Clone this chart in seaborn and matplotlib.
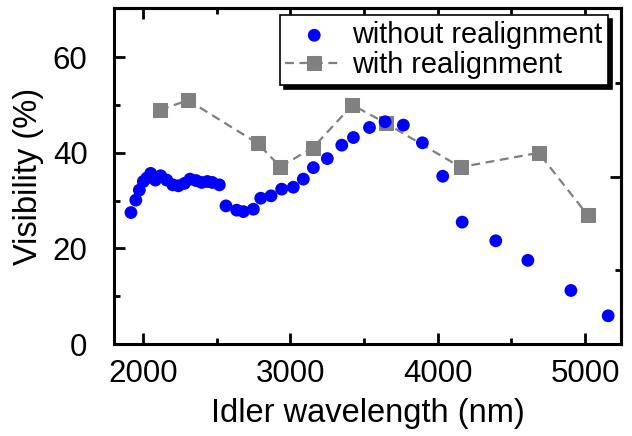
import pandas as pd
import matplotlib
matplotlib.use("Agg")
import matplotlib.pyplot as plt
import seaborn as sns

# without realignment (blue dots)
wl_no = [1918, 1951, 1975, 2002, 2025, 2052, 2084, 2120, 2161, 2202, 2240,
         2281, 2319, 2360, 2398, 2437, 2470, 2518, 2563, 2636, 2681, 2749,
         2799, 2869, 2941, 3020, 3088, 3156, 3251, 3349, 3428, 3537, 3643,
         3767, 3896, 4034, 4166, 4394, 4612, 4904, 5157]
vis_no = [27.5, 30.1, 32.2, 34.0, 34.7, 35.7, 34.3, 35.2, 34.3, 33.3, 33.1,
          33.6, 34.5, 34.2, 33.8, 34.0, 33.8, 33.3, 28.9, 28.0, 27.7, 28.2,
          30.5, 31.0, 32.4, 32.8, 34.5, 36.9, 38.8, 41.6, 43.2, 45.3, 46.5,
          45.8, 42.1, 35.1, 25.5, 21.6, 17.5, 11.2, 5.9]

# with realignment (grey squares)
wl_re = [2116, 2306, 2777, 2931, 3151, 3421, 3648, 4155, 4685, 5017]
vis_re = [49.0, 51.0, 42.0, 37.1, 41.0, 50.0, 46.2, 37.0, 40.0, 27.0]

df_no = pd.DataFrame({"wl": wl_no, "vis": vis_no})
df_re = pd.DataFrame({"wl": wl_re, "vis": vis_re})

sns.set_style("ticks", {"axes.edgecolor": "black", "text.color": "black",
                        "axes.labelcolor": "black", "xtick.color": "black",
                        "ytick.color": "black"})
plt.rcParams["font.family"] = ["Liberation Sans", "DejaVu Sans"]

fig, ax = plt.subplots(figsize=(6.32, 4.36), dpi=100)
fig.subplots_adjust(left=114/632, right=621/632, top=1-8/436, bottom=1-344/436)

sns.scatterplot(data=df_no, x="wl", y="vis", ax=ax, color="#0000ff", s=85,
                edgecolor="none", label="without realignment", zorder=3)
sns.lineplot(data=df_re, x="wl", y="vis", ax=ax, color="#808080", marker="s",
             markersize=9.5, markeredgecolor="#808080", linestyle="--", lw=1.6,
             dashes=False, label="with realignment", zorder=2)
ax.lines[-1].set_dashes([4, 2.5])

ax.set_xlim(1803, 5244)
ax.set_ylim(0, 70.3)
ax.set_xticks([2000, 3000, 4000, 5000])
ax.set_xticks([2500, 3500, 4500], minor=True)
ax.set_yticks([0, 20, 40, 60])
ax.set_yticks([10, 30, 50], minor=True)

ax.tick_params(which="major", direction="in", length=8, width=2, labelsize=22.5)
ax.tick_params(which="minor", direction="in", length=4, width=2)
ax.tick_params(axis="y", pad=19)
ax.tick_params(axis="x", pad=11)
for sp in ax.spines.values():
    sp.set_linewidth(2.2)
    sp.set_visible(True)

top = ax.secondary_xaxis("top")
top.set_xticks([2000])
top.set_xticks([2500, 3000, 3500, 4000, 4500, 5000], minor=True)
top.tick_params(which="major", direction="in", length=8, width=2, labeltop=False)
top.tick_params(which="minor", direction="in", length=4, width=2)
top.spines["top"].set_linewidth(2.2)

right = ax.secondary_yaxis("right")
right.set_yticks([35])
right.set_yticks([15.5, 54.6], minor=True)
right.tick_params(which="major", direction="in", length=8, width=2, labelright=False)
right.tick_params(which="minor", direction="in", length=4, width=2)
right.spines["right"].set_linewidth(2.2)

ax.set_xlabel("Idler wavelength (nm)", fontsize=23.5, labelpad=6)
ax.set_ylabel("Visibility (%)", fontsize=23.5, labelpad=6)

leg = ax.legend(loc="upper right", bbox_to_anchor=(0.974, 0.979),
                borderaxespad=0, fontsize=20.8, frameon=True, fancybox=False,
                shadow={"color": "black", "alpha": 1, "ox": 3, "oy": -3},
                handlelength=2.0, handletextpad=0.3, labelspacing=0.08,
                borderpad=0.2, scatterpoints=1, numpoints=1)
leg.get_frame().set_edgecolor("black")
leg.get_frame().set_linewidth(1.2)

fig.savefig("out.png", dpi=100)
